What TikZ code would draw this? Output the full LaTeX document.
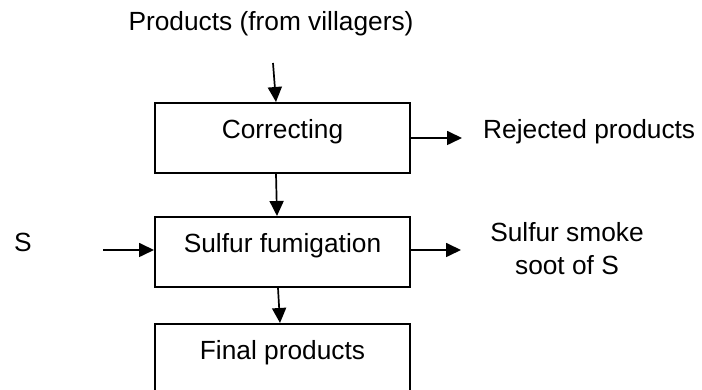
\documentclass[tikz,border=0pt]{standalone}
\usepackage{fontspec}
\setmainfont{Liberation Sans}
\usepackage{tikz}
\usetikzlibrary{
    arrows.meta,
    calc,
    positioning
}
\tikzset{stepbox/.style={draw=black, line width=2pt, minimum width=255pt, inner ysep=0pt, text height=36pt, text depth=34pt, anchor=north},
         flow/.style={line width=1.7pt, -{Triangle[length=15pt, width=14pt]}}}

\begin{document}
\begin{tikzpicture}[x=1pt, y=1pt, font=\fontsize{26.3}{33}\selectfont]
                    \useasboundingbox (0, 0) rectangle (702, 390);

                    \node[stepbox] (correct) at (282.5, 288) {Correcting};
                    \node[stepbox] (fumig) at (282.5, 174) {Sulfur fumigation};
                    \node[stepbox, text depth=35pt] (final) at (282.5, 67) {Final products};

                    \node[anchor=base] (prod) at (271, 359) {Products (from villagers)};
                    \node[anchor=base west, inner sep=0pt] (reject) at (483, 251) {Rejected products};
                    \node[anchor=base, inner sep=0pt] (sulf) at (23, 138) {S};
                    \node[align=center, inner sep=0pt] (smoke) at (567, 141.5) {Sulfur smoke\\soot of S};

                    \coordinate (prodend) at (273, 327);
                    \coordinate (rejend) at (462, 253);
                    \coordinate (sulfend) at (103, 140);
                    \coordinate (smokeend) at (461, 140);

                    \draw[flow] (prodend) -- ([xshift=-6.5pt]correct.north);
                    \draw[flow] (correct.east) -- (correct.east -| rejend);
                    \draw[flow] ([xshift=-6.5pt]correct.south) -- ([xshift=-5.5pt]fumig.north);
                    \draw[flow] (sulfend) -- (fumig.west |- sulfend);
                    \draw[flow] (fumig.east |- smokeend) -- (smokeend);
                    \draw[flow] ([xshift=-4.5pt]fumig.south) -- ([xshift=-2.5pt]final.north);
                \end{tikzpicture}
\end{document}
